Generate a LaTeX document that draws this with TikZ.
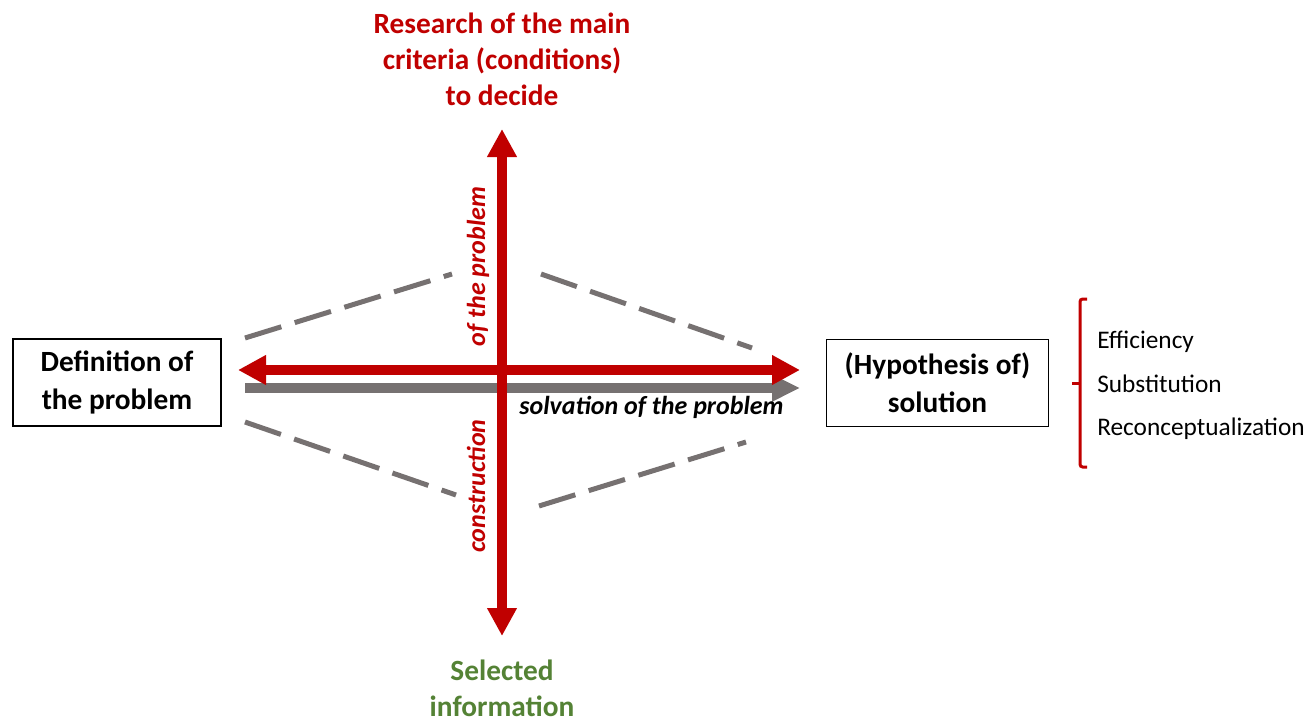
\documentclass[tikz,border=0pt]{standalone}
\usepackage{fontspec}
\setmainfont{Carlito}
\usetikzlibrary{arrows.meta}
\definecolor{axisred}{HTML}{C00000}
\definecolor{guidegray}{HTML}{767171}
\definecolor{leafgreen}{HTML}{548235}
\tikzset{
  boxnode/.style={draw=black, line width=1.1pt, minimum width=156pt, minimum height=65pt,
    align=center, inner sep=0pt, font=\bfseries\fontsize{22pt}{28.5pt}\selectfont},
  headline/.style={align=center, inner sep=0pt, font=\bfseries\fontsize{22pt}{27pt}\selectfont},
  axislabel/.style={inner sep=0pt, anchor=base, font=\bfseries\itshape\fontsize{19.5pt}{21pt}\selectfont},
  listitem/.style={inner sep=0pt, anchor=base west, font=\fontsize{19pt}{21pt}\selectfont},
  guide/.style={guidegray, line width=3.75pt, dash pattern=on 28.5pt off 10.5pt},
  redaxis/.style={axisred, line width=7.5pt, {Triangle[length=21pt,width=21pt]}-{Triangle[length=21pt,width=21pt]}},
  grayaxis/.style={guidegray, line width=7.5pt, -{Triangle[length=21pt,width=19pt]}},
}
\begin{document}
\begin{tikzpicture}[x=0.75pt, y=-0.75pt]
\useasboundingbox (0,0) rectangle (1313,721);

% boxes at both ends of the horizontal axis
\node[boxnode] (def) at (117,382.5) {Definition of\\the problem};
\node[boxnode, minimum width=166.5pt] (sol) at (937.5,383) {(Hypothesis of)\\solution};

% end points of the axes
\coordinate (hl) at (238,370);
\coordinate (hr) at (800,370);
\coordinate (gl) at (245,388);
\coordinate (gr) at (800,388);
\coordinate (vt) at (502,129);
\coordinate (vb) at (502,636);

% dashed funnel
\coordinate (ula) at (245,338); \coordinate (ulb) at (452,274);
\coordinate (ura) at (541,274); \coordinate (urb) at (752,348);
\coordinate (lla) at (245,422); \coordinate (llb) at (456,495);
\coordinate (lra) at (539,506); \coordinate (lrb) at (746,442);
\draw[guide] (ula) -- (ulb);
\draw[guide] (ura) -- (urb);
\draw[guide] (lla) -- (llb);
\draw[guide] (lra) -- (lrb);

% axes
\draw[grayaxis] (gl) -- (gr);
\draw[redaxis] (hl) -- (hr);
\draw[redaxis] (vb) -- (vt);

% axis labels
\node[axislabel, text=axisred, rotate=90] (ofp) at (485,266.5) {of the problem};
\node[axislabel, text=axisred, rotate=90] (con) at (485,486) {construction};
\node[axislabel, text=black] (solv) at (651.5,414) {solvation of the problem};

% pole texts
\node[headline, text=axisred] (top) at (502,59) {Research of the main\\criteria (conditions)\\to decide};
\node[headline, text=leafgreen] (bot) at (502,688) {Selected\\information};

% bracket and list of solution types
\coordinate (bt) at (1087,299);
\coordinate (bb) at (1087,467);
\coordinate (bm) at (1072,383);
\draw[axisred, line width=2.25pt, rounded corners=2pt] (bt) -- (1080,299) -- (1080,467) -- (bb);
\draw[axisred, line width=2.25pt] (bm) -- (1080,383);
\node[listitem] (eff) at (1097,348) {Efficiency};
\node[listitem] (sub) at (1097,392) {Substitution};
\node[listitem] (rec) at (1097,435) {Reconceptualization};
\end{tikzpicture}
\end{document}
